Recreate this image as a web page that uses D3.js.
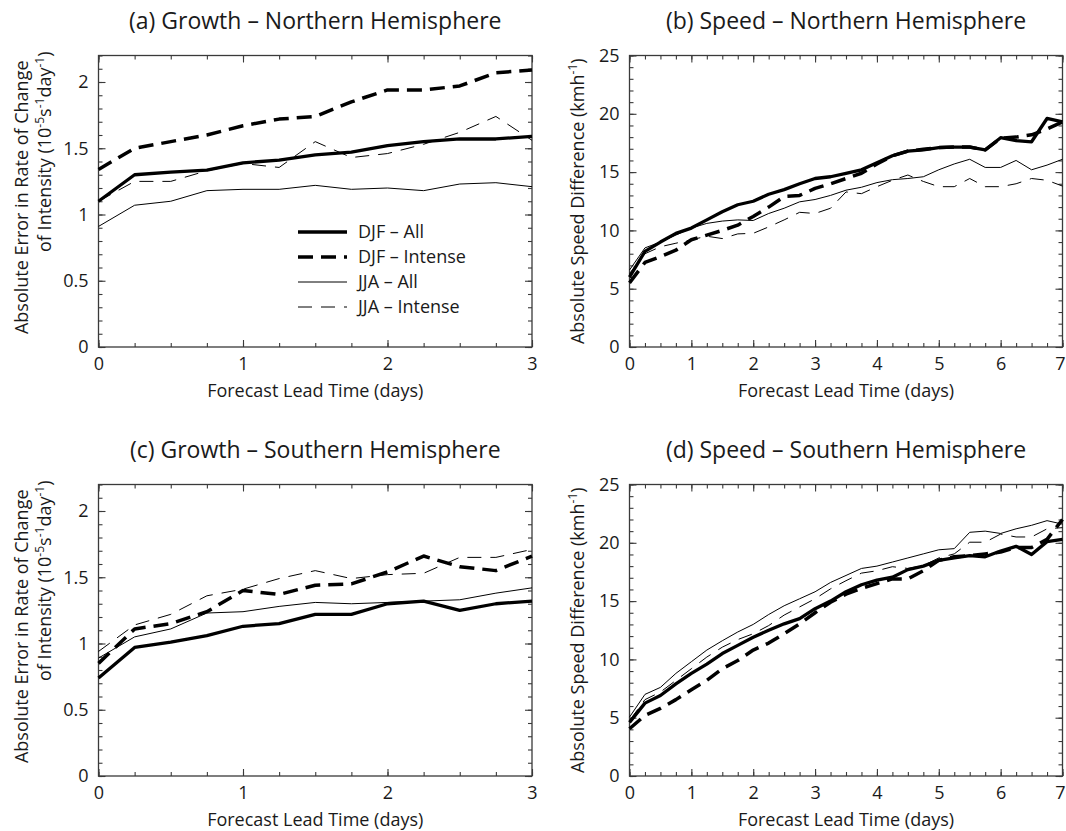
<!DOCTYPE html>
<html>
<head>
<meta charset="utf-8">
<script src="https://cdn.jsdelivr.net/npm/d3@7"></script>
<style>
  html, body { margin: 0; padding: 0; background: #fff; }
  svg { display: block; }
</style>
</head>
<body>
<svg id="chart" width="1066" height="831"></svg>
<script>
// ---------------- DATA ----------------
const leadShort = [0, 0.25, 0.5, 0.75, 1, 1.25, 1.5, 1.75, 2, 2.25, 2.5, 2.75, 3];
const leadLong = [0, 0.25, 0.5, 0.75, 1, 1.25, 1.5, 1.75, 2, 2.25, 2.5, 2.75, 3, 3.25, 3.5, 3.75,
                  4, 4.25, 4.5, 4.75, 5, 5.25, 5.5, 5.75, 6, 6.25, 6.5, 6.75, 7];

const seriesNames = ["DJF \u2013 All", "DJF \u2013 Intense", "JJA \u2013 All", "JJA \u2013 Intense"];

// (a) Growth - Northern Hemisphere
const aDjfAll = [1.10, 1.30, 1.32, 1.335, 1.39, 1.41, 1.45, 1.47, 1.52, 1.55, 1.57, 1.57, 1.59];
const aDjfInt = [1.34, 1.50, 1.55, 1.60, 1.67, 1.72, 1.74, 1.85, 1.94, 1.94, 1.97, 2.07, 2.09];
const aJjaAll = [0.91, 1.07, 1.10, 1.18, 1.19, 1.19, 1.22, 1.19, 1.20, 1.18, 1.23, 1.24, 1.21];
const aJjaInt = [1.10, 1.25, 1.25, 1.33, 1.385, 1.355, 1.55, 1.43, 1.46, 1.53, 1.62, 1.74, 1.56];

// (b) Speed - Northern Hemisphere
const bDjfAll = [6.0, 8.2, 9.0, 9.75, 10.2, 10.9, 11.6, 12.2, 12.5, 13.1, 13.5, 14.0, 14.45, 14.6, 14.9, 15.2,
                 15.8, 16.4, 16.8, 16.9, 17.1, 17.15, 17.15, 16.9, 17.95, 17.7, 17.6, 19.6, 19.3];
const bDjfInt = [5.5, 7.25, 7.75, 8.3, 9.2, 9.6, 10.0, 10.45, 11.2, 12.0, 12.9, 13.0, 13.6, 14.0, 14.45, 14.9,
                 15.7, 16.4, 16.8, 16.95, 17.1, 17.15, 17.15, 16.9, 17.9, 18.0, 18.2, 18.7, 19.3];
const bJjaAll = [6.6, 8.5, 9.0, 9.6, 10.2, 10.6, 10.8, 10.9, 10.85, 11.45, 11.9, 12.45, 12.65, 13.0, 13.45, 13.7,
                 14.1, 14.35, 14.45, 14.6, 15.2, 15.7, 16.1, 15.4, 15.4, 16.0, 15.2, 15.6, 16.1];
const bJjaInt = [6.3, 8.0, 8.6, 8.9, 9.2, 9.5, 9.3, 9.7, 9.75, 10.3, 10.9, 11.55, 11.45, 11.9, 13.3, 13.15,
                 13.75, 14.3, 14.75, 14.2, 13.75, 13.75, 14.45, 13.75, 13.75, 14.0, 14.45, 14.3, 13.8];

// (c) Growth - Southern Hemisphere
const cDjfAll = [0.74, 0.97, 1.01, 1.06, 1.13, 1.15, 1.22, 1.22, 1.30, 1.32, 1.25, 1.30, 1.32];
const cDjfInt = [0.85, 1.11, 1.15, 1.24, 1.40, 1.37, 1.44, 1.45, 1.54, 1.66, 1.58, 1.55, 1.66];
const cJjaAll = [0.89, 1.05, 1.11, 1.23, 1.24, 1.28, 1.31, 1.30, 1.31, 1.32, 1.33, 1.38, 1.42];
const cJjaInt = [0.94, 1.14, 1.22, 1.36, 1.41, 1.49, 1.55, 1.49, 1.52, 1.53, 1.65, 1.65, 1.71];

// (d) Speed - Southern Hemisphere
const dDjfAll = [4.6, 6.25, 6.9, 7.9, 8.8, 9.6, 10.5, 11.2, 11.9, 12.5, 13.05, 13.5, 14.35, 15.0, 15.8, 16.4,
                 16.8, 17.05, 17.7, 18.0, 18.5, 18.7, 18.9, 18.8, 19.3, 19.7, 19.0, 20.1, 20.3];
const dDjfInt = [4.05, 5.2, 5.8, 6.55, 7.4, 8.2, 9.2, 9.9, 10.8, 11.4, 12.2, 13.05, 14.0, 14.9, 15.6, 16.1,
                 16.5, 16.9, 16.9, 17.6, 18.5, 18.8, 18.9, 19.05, 19.2, 19.6, 19.6, 20.3, 22.0];
const dJjaAll = [5.05, 7.0, 7.6, 8.8, 9.8, 10.8, 11.6, 12.35, 13.0, 13.85, 14.6, 15.2, 15.8, 16.6, 17.2, 17.8,
                 18.0, 18.35, 18.7, 19.05, 19.4, 19.5, 20.9, 21.0, 20.8, 21.2, 21.5, 21.9, 21.6];
const dJjaInt = [4.75, 6.55, 7.2, 8.2, 9.2, 10.2, 11.05, 11.7, 12.2, 12.9, 13.8, 14.5, 15.2, 16.05, 16.75, 17.4,
                 17.6, 17.95, 17.8, 18.05, 18.7, 19.05, 20.05, 20.05, 20.75, 20.5, 20.5, 21.2, 21.3];

// tick labels
const growthTicks = [0, 0.5, 1, 1.5, 2];
const speedTicks = [0, 5, 10, 15, 20, 25];
const shortDayTicks = [0, 1, 2, 3];
const longDayTicks = [0, 1, 2, 3, 4, 5, 6, 7];

const titles = ["(a) Growth \u2013 Northern Hemisphere", "(b) Speed \u2013 Northern Hemisphere",
                "(c) Growth \u2013 Southern Hemisphere", "(d) Speed \u2013 Southern Hemisphere"];
const xLabel = "Forecast Lead Time (days)";

// ---------------- DRAW ----------------
const FONT = "'Open Sans', 'Noto Sans', sans-serif";
const INK = "#1a1a1a";
const AXC = "#3a3a3a";
const W = 1066;
const svg = d3.select("#chart").attr("font-family", FONT);

const styles = [
  { w: 3.3, dash: null },
  { w: 3.5, dash: "15,8" },
  { w: 1.0, dash: null },
  { w: 1.0, dash: "14,9" }
];

function minorRange(a, b, step) {
  const out = [];
  for (let i = 0; a + i * step <= b + 1e-9; i++) out.push(+(a + i * step).toFixed(4));
  return out;
}

function panel(cfg) {
  const g = svg.append("g");
  const x = d3.scaleLinear().domain([0, cfg.xMax]).range([cfg.left, cfg.right]);
  const y = d3.scaleLinear().domain([0, cfg.yMax]).range([cfg.bottom, cfg.top]);
  const xMinor = minorRange(0, cfg.xMax, 0.25);
  const yMinor = minorRange(0, cfg.yMax, cfg.yMinorStep);

  const style = sel => {
    sel.select(".domain").remove();
    sel.selectAll("line").attr("stroke", AXC).attr("stroke-width", 1.1);
    sel.selectAll("text").filter(function () { return !this.textContent; }).remove();
    sel.attr("font-family", FONT).attr("font-size", 18);
    sel.selectAll("text").attr("fill", INK);
  };

  // bottom
  g.append("g").attr("transform", `translate(0,${cfg.bottom})`)
    .call(d3.axisBottom(x).tickValues(xMinor).tickSize(-4).tickFormat("")).call(style);
  const xb = g.append("g").attr("transform", `translate(0,${cfg.bottom})`)
    .call(d3.axisBottom(x).tickValues(cfg.xTicks).tickSize(-7).tickPadding(10).tickFormat(d3.format("d"))).call(style);
  // keep the last label inside the page (the reference shows it hugging the right edge)
  xb.selectAll(".tick text").each(function (d) {
    const bb = this.getBBox();
    const overflow = x(d) + bb.x + bb.width - (W - 1);
    if (overflow > 0) d3.select(this).attr("x", -overflow);
  });
  // top
  g.append("g").attr("transform", `translate(0,${cfg.top})`)
    .call(d3.axisTop(x).tickValues(xMinor).tickSize(-4).tickFormat("")).call(style);
  g.append("g").attr("transform", `translate(0,${cfg.top})`)
    .call(d3.axisTop(x).tickValues(cfg.xTicks).tickSize(-7).tickFormat("")).call(style);
  // left
  g.append("g").attr("transform", `translate(${cfg.left},0)`)
    .call(d3.axisLeft(y).tickValues(yMinor).tickSize(-4).tickFormat("")).call(style);
  g.append("g").attr("transform", `translate(${cfg.left},0)`)
    .call(d3.axisLeft(y).tickValues(cfg.yTicks).tickSize(-7).tickPadding(10).tickFormat(d => String(d))).call(style);
  // right
  g.append("g").attr("transform", `translate(${cfg.right},0)`)
    .call(d3.axisRight(y).tickValues(yMinor).tickSize(-4).tickFormat("")).call(style);
  g.append("g").attr("transform", `translate(${cfg.right},0)`)
    .call(d3.axisRight(y).tickValues(cfg.yTicks).tickSize(-7).tickFormat("")).call(style);

  // frame
  g.append("rect").attr("x", cfg.left).attr("y", cfg.top)
    .attr("width", cfg.right - cfg.left).attr("height", cfg.bottom - cfg.top)
    .attr("fill", "none").attr("stroke", AXC).attr("stroke-width", 1.3);

  // lines
  const line = d3.line().x((d, i) => x(cfg.lead[i])).y(d => y(d));
  cfg.series.forEach((s, k) => {
    g.append("path").datum(s).attr("d", line)
      .attr("fill", "none").attr("stroke", "#000")
      .attr("stroke-width", styles[k].w)
      .attr("stroke-dasharray", styles[k].dash)
      .attr("stroke-linejoin", "round");
  });

  const cx = (cfg.left + cfg.right) / 2;
  // title
  g.append("text").attr("x", cx).attr("y", cfg.top - 27).attr("text-anchor", "middle")
    .attr("font-size", 23).attr("fill", INK).text(cfg.title);
  // x label
  g.append("text").attr("x", cx).attr("y", cfg.bottom + 50).attr("text-anchor", "middle")
    .attr("font-size", 18).attr("fill", INK).text(xLabel);

  return { g, x, y };
}

// writes text parts; parts with .s are superscripts
function richText(t, parts) {
  let raised = false;
  parts.forEach(p => {
    if (p.s) {
      t.append("tspan").attr("font-size", 12).attr("dy", raised ? 0 : -7).text(p.s);
      raised = true;
    } else {
      t.append("tspan").attr("font-size", 18).attr("dy", raised ? 7 : 0).text(p.t);
      raised = false;
    }
  });
}

function growthYLabel(g, top, bottom) {
  const cy = (top + bottom) / 2 - 4;
  g.append("text").attr("transform", `translate(28,${cy}) rotate(-90)`)
    .attr("text-anchor", "middle").attr("font-size", 18).attr("fill", INK)
    .text("Absolute Error in Rate of Change");
  const t = g.append("text").attr("transform", `translate(51,${top - 4}) rotate(-90)`)
    .attr("text-anchor", "end").attr("font-size", 18).attr("fill", INK);
  richText(t, [{ t: "of Intensity (10" }, { s: "-5" }, { t: "s" }, { s: "-1" }, { t: "day" }, { s: "-1" }, { t: ")" }]);
}

function speedYLabel(g, top, bottom) {
  const cy = (top + bottom) / 2;
  const t = g.append("text").attr("transform", `translate(584,${cy}) rotate(-90)`)
    .attr("text-anchor", "middle").attr("font-size", 18).attr("fill", INK);
  richText(t, [{ t: "Absolute Speed Difference (kmh" }, { s: "-1" }, { t: ")" }]);
}

const L1 = 98.5, R1 = 532, L2 = 629.5, R2 = 1062.5;
const T1 = 55.5, B1 = 347, T2 = 484.5, B2 = 776;

const pa = panel({ left: L1, right: R1, top: T1, bottom: B1, xMax: 3, yMax: 2.2, yMinorStep: 0.1,
  xTicks: shortDayTicks, yTicks: growthTicks, lead: leadShort, title: titles[0],
  series: [aDjfAll, aDjfInt, aJjaAll, aJjaInt] });
const pb = panel({ left: L2, right: R2, top: T1, bottom: B1, xMax: 7, yMax: 25, yMinorStep: 1,
  xTicks: longDayTicks, yTicks: speedTicks, lead: leadLong, title: titles[1],
  series: [bDjfAll, bDjfInt, bJjaAll, bJjaInt] });
const pc = panel({ left: L1, right: R1, top: T2, bottom: B2, xMax: 3, yMax: 2.2, yMinorStep: 0.1,
  xTicks: shortDayTicks, yTicks: growthTicks, lead: leadShort, title: titles[2],
  series: [cDjfAll, cDjfInt, cJjaAll, cJjaInt] });
const pd = panel({ left: L2, right: R2, top: T2, bottom: B2, xMax: 7, yMax: 25, yMinorStep: 1,
  xTicks: longDayTicks, yTicks: speedTicks, lead: leadLong, title: titles[3],
  series: [dDjfAll, dDjfInt, dJjaAll, dJjaInt] });

growthYLabel(pa.g, T1, B1);
growthYLabel(pc.g, T2, B2);
speedYLabel(pb.g, T1, B1);
speedYLabel(pd.g, T2, B2);

// legend in panel (a)
const leg = pa.g.append("g");
seriesNames.forEach((name, k) => {
  const yy = 232 + k * 25;
  leg.append("line").attr("x1", 298).attr("x2", 347).attr("y1", yy).attr("y2", yy)
    .attr("stroke", "#000").attr("stroke-width", styles[k].w)
    .attr("stroke-dasharray", styles[k].dash);
  leg.append("text").attr("x", 358).attr("y", yy).attr("dy", "0.35em")
    .attr("font-size", 18).attr("fill", INK).text(name);
});
</script>
</body>
</html>
